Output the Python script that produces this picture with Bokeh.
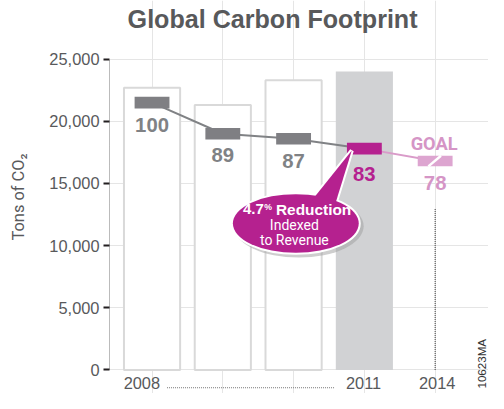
import math
from bokeh.plotting import figure
from bokeh.models import Range1d, LinearAxis, FixedTicker, NumeralTickFormatter
from bokeh.core.properties import value
from bokeh.embed import file_html
from bokeh.resources import INLINE

# ---------------- data ----------------
years = ["2008", "2009", "2010", "2011", "2014"]
bar_totals = [22700, 21300, 23300]            # 2008-2010 outline bars
highlight_total = 24000                       # 2011 highlighted bar
marker_values = [21500, 19000, 18600, 17800]  # 2008-2011 indexed footprint
goal_value = 16800                            # 2014 goal
index_labels = ["100", "89", "87", "83"]
goal_label = "78"
axis_years = ["2008", "2011", "2014"]
y_ticks = [0, 5000, 10000, 15000, 20000, 25000]

# ---------------- layout helpers ----------------
W, H = 488, 393
SX, SY = W / 504.0, H / 409.0   # design (504x409) -> figure pixels
X0, UX = 156.5, 73.1            # design px of first slot, px per slot
Y0, UY = 384.5, 12.94 / 1000.0  # design px of zero, px per ton


def ox(px):
    return px / UX


def oy(px):
    return px / UY


def ax(xr):
    return (xr - X0) / UX


def ay(yr):
    return (Y0 - yr) / UY


def fs(s):
    return f"{s * 0.965:.1f}px"


xi = {y: i for i, y in enumerate(years)}

GREY_TXT = "#58595b"
NUM_GREY = "#808285"
MARK_GREY = "#7f7f83"
MAGENTA = "#b5218f"
PINK = "#d99bc9"
PINK_TXT = "#d595c6"
SANS = "Liberation Sans"
COND = "Roboto"

LEFT = 109
p = figure(width=W, height=H, output_backend="svg", toolbar_location=None,
           x_range=Range1d(ax(LEFT / SX), ax(504)),
           y_range=Range1d(ay(409), ay(0)),
           x_axis_location=None, y_axis_location=None,
           min_border_left=LEFT, min_border_right=0, min_border_top=0, min_border_bottom=0)
p.outline_line_color = None
p.background_fill_color = "white"
p.border_fill_color = "white"

yaxis = LinearAxis(ticker=FixedTicker(ticks=y_ticks), bounds=(0, 25000),
                   formatter=NumeralTickFormatter(format="0,0"))
yaxis.axis_line_color = "#777777"
yaxis.axis_line_dash = "1 1"
yaxis.axis_line_width = 1
yaxis.major_tick_in = 0
yaxis.major_tick_out = 6
yaxis.major_tick_line_color = "#231f20"
yaxis.major_tick_line_width = 2
yaxis.minor_tick_line_color = None
yaxis.major_label_standoff = 4
yaxis.major_label_text_font = SANS
yaxis.major_label_text_font_size = fs(17)
yaxis.major_label_text_color = GREY_TXT
yaxis.axis_label = "Tons of CO\u2082"
yaxis.axis_label_text_font = COND
yaxis.axis_label_text_font_style = "normal"
yaxis.axis_label_text_font_size = fs(17)
yaxis.axis_label_text_color = GREY_TXT
yaxis.axis_label_standoff = 18
p.add_layout(yaxis, "left")

# highlighted 2011 bar
p.vbar(x=[xi["2011"]], top=[highlight_total], bottom=0, width=ox(59),
       fill_color="#d1d2d4", line_color=None)
# outline bars 2008-2010
p.vbar(x=[xi[y] for y in years[:3]], top=bar_totals, bottom=0, width=ox(58),
       fill_color="white", line_color="#d9d9d9", line_width=2)

# 2014 dotted guide
p.segment(x0=[xi["2014"]], y0=[0], x1=[xi["2014"]], y1=[ay(217)],
          line_color="#333333", line_dash="1 1", line_width=1)

# trend lines
mx = [xi[y] for y in years[:4]]
p.line(mx, marker_values, line_color="#808285", line_width=2)
p.line([xi["2011"], xi["2014"]], [marker_values[-1], goal_value], line_color=PINK, line_width=2)

# markers
RW, RH = 36 * SX, 12 * SY
p.rect(x=mx[:3], y=marker_values[:3], width=RW, height=RH, width_units="screen",
       height_units="screen", fill_color=MARK_GREY, line_color=None)
p.rect(x=[mx[3]], y=[marker_values[3]], width=RW, height=RH, width_units="screen",
       height_units="screen", fill_color=MAGENTA, line_color=None)
p.rect(x=[xi["2014"]], y=[goal_value], width=RW, height=11 * SY, width_units="screen",
       height_units="screen", fill_color="#dda5d0", line_color=None)
p.segment(x0=[xi["2014"] + ox(-7)], y0=[goal_value - oy(5.5)],
          x1=[xi["2014"] + ox(6)], y1=[goal_value + oy(5.5)],
          line_color="white", line_width=2.5)

# index labels
offs = [23.5, 22, 23.5, 26]
p.text(x=mx[:3], y=[v - oy(o) for v, o in zip(marker_values[:3], offs[:3])], text=index_labels[:3],
       text_font=value(SANS), text_font_style="bold", text_font_size=fs(21),
       text_color=NUM_GREY, text_align="center", text_baseline="middle")
p.text(x=[mx[3]], y=[marker_values[3] - oy(offs[3])], text=[index_labels[3]],
       text_font=value(SANS), text_font_style="bold", text_font_size=fs(21),
       text_color=MAGENTA, text_align="center", text_baseline="middle")
p.text(x=[xi["2014"]], y=[goal_value - oy(23)], text=[goal_label],
       text_font=value(SANS), text_font_style="bold", text_font_size=fs(21),
       text_color=PINK_TXT, text_align="center", text_baseline="middle")
p.text(x=[xi["2014"] + ox(-1)], y=[goal_value + oy(18)], text=["GOAL"],
       text_font=value(COND), text_font_style="bold", text_font_size=fs(19),
       text_color=PINK_TXT, text_align="center", text_baseline="middle")

# callout bubble
bx = ax(305)
by = ay(232)
tip_x = xi["2011"] + ox(-13)
tip_y = marker_values[3] - oy(2)
ptr_x = [bx + ox(15), tip_x, bx + ox(40)]
ptr_y = [by + oy(22), tip_y, by + oy(18)]
EW, EH = 130 * SX, 61 * SY
p.ellipse(x=[bx + ox(3)], y=[by - oy(3)], width=EW + 4, height=EH + 4, width_units="screen",
          height_units="screen", fill_color="#9d9d9d", fill_alpha=0.5, line_color=None)
p.ellipse(x=[bx], y=[by], width=EW, height=EH, width_units="screen", height_units="screen",
          fill_color=MAGENTA, line_color="white", line_width=4)
p.patch(ptr_x, ptr_y, fill_color=MAGENTA, line_color="white", line_width=4)
p.ellipse(x=[bx], y=[by], width=EW, height=EH, width_units="screen", height_units="screen",
          fill_color=MAGENTA, line_color=None)
p.patch(ptr_x, ptr_y, fill_color=MAGENTA, line_color=None)
p.text(x=[ax(272)], y=[ay(217.5)], text=["4.7"],
       text_font=value(SANS), text_font_style="bold", text_font_size=fs(15.5),
       text_color="white", text_align="right", text_baseline="middle")
p.text(x=[ax(272.5)], y=[ay(214.5)], text=["%"],
       text_font=value(SANS), text_font_style="bold", text_font_size=fs(9),
       text_color="white", text_align="left", text_baseline="middle")
p.text(x=[ax(284.5)], y=[ay(217.5)], text=["Reduction"],
       text_font=value(SANS), text_font_style="bold", text_font_size=fs(16),
       text_color="white", text_align="left", text_baseline="middle")
p.text(x=[ax(303.5), ax(303.5)], y=[ay(234), ay(249)],
       text=["Indexed", "to Revenue"],
       text_font=value(COND), text_font_size=fs(14.5),
       text_color="white", text_align="center", text_baseline="middle")

# title
p.text(x=[ax(281)], y=[ay(19)], text=["Global Carbon Footprint"],
       text_font=value(SANS), text_font_style="bold", text_font_size=fs(26),
       text_color=GREY_TXT, text_align="center", text_baseline="middle")

# x labels
p.text(x=[ax(146), ax(375), ax(451)], y=[ay(398)] * 3, text=axis_years,
       text_font=value(SANS), text_font_size=fs(17),
       text_color=GREY_TXT, text_align="center", text_baseline="middle")
p.segment(x0=[ax(172)], y0=[ay(403)], x1=[ax(345)], y1=[ay(403)],
          line_color="#777777", line_dash="1 1", line_width=1)

# code at right edge
p.text(x=[ax(497)], y=[ay(378)], text=["10623MA"], angle=math.pi / 2,
       text_font=value(SANS), text_font_size=fs(12),
       text_color="#333333", text_align="center", text_baseline="middle")

open("out.html", "w").write(file_html(p, INLINE))
